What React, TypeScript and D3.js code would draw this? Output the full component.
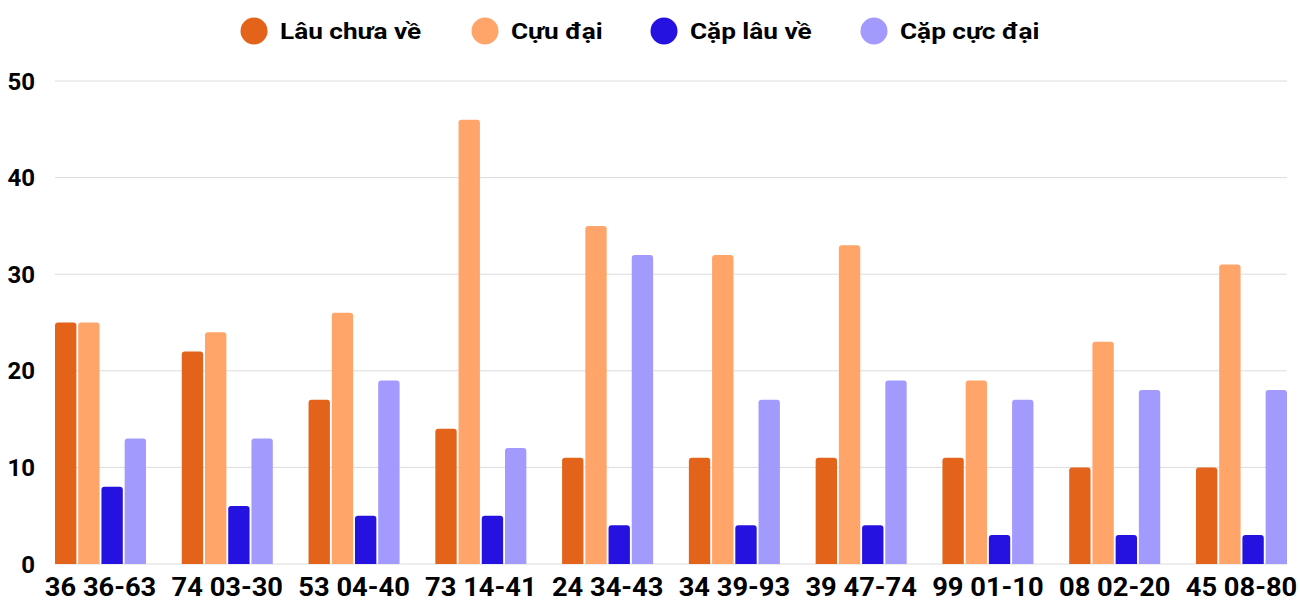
import React from "react";
import * as d3 from "d3";

const categories = [
  "36 36-63",
  "74 03-30",
  "53 04-40",
  "73 14-41",
  "24 34-43",
  "34 39-93",
  "39 47-74",
  "99 01-10",
  "08 02-20",
  "45 08-80",
];
const seriesNames = ["Lâu chưa về", "Cựu đại", "Cặp lâu về", "Cặp cực đại"];
const lauChuaVe = [25, 22, 17, 14, 11, 11, 11, 11, 10, 10];
const cuuDai = [25, 24, 26, 46, 35, 32, 33, 19, 23, 31];
const capLauVe = [8, 6, 5, 5, 4, 4, 4, 3, 3, 3];
const capCucDai = [13, 13, 19, 12, 32, 17, 19, 17, 18, 18];
const yTicks = [0, 10, 20, 30, 40, 50];

const colors = ["#E4631A", "#FFA56A", "#2612E0", "#A29AFD"];
const series = [lauChuaVe, cuuDai, capLauVe, capCucDai];

const W = 1300;
const H = 600;
const margin = { top: 81, right: 13, bottom: 36, left: 55 };
const font = "Roboto, 'Noto Sans', sans-serif";

// bar with slightly rounded top corners
function barPath(x: number, y: number, w: number, h: number, r: number) {
  const rr = Math.min(r, h, w / 2);
  return `M${x},${y + h}V${y + rr}Q${x},${y} ${x + rr},${y}H${x + w - rr}Q${x + w},${y} ${x + w},${y + rr}V${y + h}Z`;
}

export default function App() {
  const x0 = d3
    .scaleBand<string>()
    .domain(categories)
    .range([margin.left, W - margin.right])
    .paddingInner(0.282)
    .paddingOuter(0);
  const x1 = d3
    .scaleBand<number>()
    .domain(d3.range(seriesNames.length))
    .range([0, x0.bandwidth()])
    .paddingInner(0.08);
  const y = d3
    .scaleLinear()
    .domain([0, 50])
    .range([H - margin.bottom, margin.top]);

  const legendX = [254, 485, 664, 874];

  return (
    <svg
      width={W}
      height={H}
      style={{ position: "absolute", left: 0, top: 0, background: "#fff" }}
      fontFamily={font}
    >
      {/* legend */}
      <g>
        {seriesNames.map((name, i) => (
          <g key={name} transform={`translate(${legendX[i]},31)`}>
            <circle r={13.5} fill={colors[i]} />
            <text
              transform="translate(26,0) scale(1.19,1)"
              dy="0.36em"
              fontSize={22}
              fontWeight={700}
              fill="#000"
            >
              {name}
            </text>
          </g>
        ))}
      </g>

      {/* grid + y axis */}
      <g>
        {yTicks.map((t) => (
          <g key={t}>
            <line
              x1={margin.left}
              x2={W - margin.right}
              y1={y(t)}
              y2={y(t)}
              stroke="#dcdcdc"
              strokeWidth={1}
            />
            <text
              x={35}
              y={y(t)}
              dy="0.36em"
              textAnchor="end"
              fontSize={24}
              fontWeight={700}
              fill="#000"
            >
              {t}
            </text>
          </g>
        ))}
      </g>

      {/* bars */}
      <g>
        {categories.map((c, ci) => (
          <g key={c} transform={`translate(${x0(c)},0)`}>
            {series.map((vals, si) => {
              const bx = x1(si) as number;
              const by = y(vals[ci]);
              return (
                <path
                  key={si}
                  d={barPath(bx, by, x1.bandwidth(), y(0) - by, 3)}
                  fill={colors[si]}
                />
              );
            })}
          </g>
        ))}
      </g>

      {/* x labels */}
      <g>
        {categories.map((c) => (
          <text
            key={c}
            transform={`translate(${(x0(c) as number) + x0.bandwidth() / 2},${H - 4}) scale(1.05,1)`}
            textAnchor="middle"
            fontSize={26}
            fontWeight={700}
            fill="#000"
          >
            {c}
          </text>
        ))}
      </g>
    </svg>
  );
}
